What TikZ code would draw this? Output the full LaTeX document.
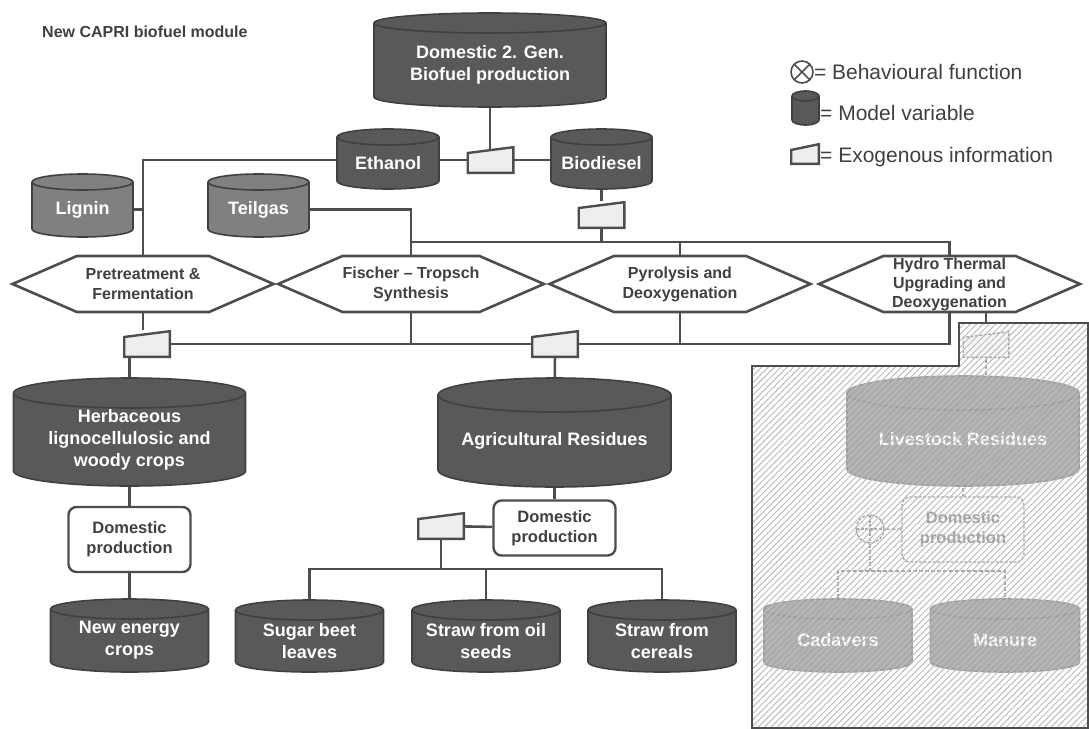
\documentclass[tikz,border=0pt]{standalone}
\usepackage{fontspec}
\setmainfont{Liberation Sans}
\usetikzlibrary{calc,shapes.symbols,backgrounds,patterns.meta}

\definecolor{vardark}{HTML}{595959}
\definecolor{varlight}{HTML}{808080}
\definecolor{varedge}{HTML}{404040}
\definecolor{linkgray}{HTML}{4D4D4D}
\definecolor{exofill}{HTML}{EEEEEE}
\definecolor{labelgray}{HTML}{404040}

\tikzset{
  capry/.store in=\capry, capry=10pt,
  cylfill/.store in=\cylfill, cylfill=vardark,
  link/.style={draw=linkgray, line width=2.6pt},
  fadelink/.style={draw=linkgray, line width=1.4pt, dash pattern=on 4pt off 2pt},
  % cylinder drawn in the node box, leaving capry free below it
  var/.style={inner sep=0pt, align=center, text=white,
    font=\bfseries\fontsize{18}{22}\selectfont,
    path picture={
      \draw[draw=varedge, fill=\cylfill, line width=1.6pt]
        let \p1=(path picture bounding box.south west),
            \p2=(path picture bounding box.north east),
            \n1={(\x2-\x1)/2-1pt}
        in (\x1+1pt,\y2-\capry-1pt) -- (\x1+1pt,\y1+2*\capry+1pt)
          arc[start angle=180, end angle=360, x radius=\n1, y radius=\capry]
          -- (\x2-1pt,\y2-\capry-1pt)
          arc[start angle=0, end angle=180, x radius=\n1, y radius=\capry]
          arc[start angle=180, end angle=360, x radius=\n1, y radius=\capry];
    }},
  exoline/.style={draw=linkgray, line width=2.4pt},
  exo/.style={inner sep=0pt, minimum width=48pt, minimum height=28pt,
    path picture={
      \draw[exoline, fill=exofill]
        ([shift={(1.2pt,1.2pt)}]path picture bounding box.south west)
        -- ([shift={(1.2pt,-7pt)}]path picture bounding box.north west)
        -- ([shift={(-1.2pt,-1.2pt)}]path picture bounding box.north east)
        -- ([shift={(-1.2pt,1.2pt)}]path picture bounding box.south east) -- cycle;
    }},
  proc/.style={signal, signal to=west and east, signal pointer angle=47,
    draw=linkgray, fill=white, line width=2.6pt, inner sep=0pt,
    minimum width=261pt, minimum height=56pt, align=center, text=labelgray,
    font=\bfseries\fontsize{16}{20}\selectfont},
  dom/.style={draw=linkgray, fill=white, line width=2.4pt, rounded corners=8pt,
    minimum width=122pt, minimum height=65pt, inner sep=0pt, align=center,
    text=labelgray, font=\bfseries\fontsize{16.5}{20}\selectfont},
  behav/.style={circle, draw=linkgray, line width=1.6pt, fill=white,
    minimum size=22pt, inner sep=0pt,
    path picture={\draw[linkgray, line width=1.6pt]
      (path picture bounding box.north west) -- (path picture bounding box.south east)
      (path picture bounding box.north east) -- (path picture bounding box.south west);}},
  sumfn/.style={circle, draw=linkgray, line width=1.3pt, dash pattern=on 3pt off 1.5pt,
    fill=white, minimum size=28pt, inner sep=0pt,
    path picture={\draw[linkgray, line width=1.3pt]
      (path picture bounding box.north) -- (path picture bounding box.south)
      (path picture bounding box.west) -- (path picture bounding box.east);}},
  legend/.style={anchor=west, inner sep=0pt, text=labelgray,
    font=\fontsize{21}{24}\selectfont},
}

\begin{document}
\begin{tikzpicture}[x=1pt, y=-1pt]
  \useasboundingbox (0,0) rectangle (1089,728);
  \coordinate (topbus) at (0,242);
  \coordinate (lowbus) at (0,344);
  \coordinate (midbus) at (0,569);
  \coordinate (fadetop) at (0,323);
  \coordinate (fadebus) at (0,571);

  \node[anchor=west, inner sep=0pt, text=labelgray, font=\bfseries\fontsize{16}{19}\selectfont] (title) at (42,32) {New CAPRI biofuel module};

  % biofuels
  \node[var, capry=10pt, minimum width=234pt, minimum height=106pt] (dom2) at (490,65) {Domestic 2. Gen.\\Biofuel production};
  \node[var, capry=8pt, minimum width=104pt, minimum height=70pt] (eth) at (388,163) {Ethanol};
  \node[var, capry=8pt, minimum width=103pt, minimum height=70pt] (bio) at (601.5,163) {Biodiesel};
  \node[exo] (x1) at (490.5,160) {};
  \node[exo] (x2) at (601.5,215) {};

  % by-products
  \node[var, capry=8pt, cylfill=varlight, minimum width=103pt, minimum height=73pt] (lig) at (82.5,209.5) {Lignin};
  \node[var, capry=8pt, cylfill=varlight, minimum width=103pt, minimum height=73pt] (teil) at (258.5,209.5) {Teilgas};

  % conversion processes
  \node[proc] (pre) at (143,284) {Pretreatment \&\\Fermentation};
  \node[proc] (fts) at (411,284) {Fischer – Tropsch\\Synthesis};
  \node[proc] (pyr) at (680,284) {Pyrolysis and\\Deoxygenation};
  \node[proc, font=\bfseries\fontsize{16}{19}\selectfont] (hyd) at (949.5,284) {Hydro Thermal\\Upgrading and\\Deoxygenation};
  \node[exo] (x3) at (147,344) {};
  \node[exo] (x4) at (555,344) {};

  % feedstocks
  \node[var, capry=15pt, minimum width=234pt, minimum height=125pt] (herb) at (129.5,439.5) {Herbaceous\\lignocellulosic and\\woody crops};
  \node[var, capry=17pt, minimum width=235pt, minimum height=128pt] (agr) at (554.5,441) {Agricultural Residues};
  \node[dom] (dp1) at (129.5,539.5) {Domestic\\production};
  \node[dom, minimum height=55pt] (dp2) at (554.5,528) {Domestic\\production};
  \node[exo] (x5) at (441,526) {};
  \node[var, minimum width=160pt, minimum height=85pt] (nec) at (129.5,640.5) {New energy\\crops};
  \node[var, minimum width=150pt, minimum height=84pt] (sbl) at (309.5,641) {Sugar beet\\leaves};
  \node[var, minimum width=150pt, minimum height=84pt] (sos) at (486,641) {Straw from oil\\seeds};
  \node[var, minimum width=150pt, minimum height=84pt] (sce) at (662,641) {Straw from\\cereals};

  % legend
  \node[behav] (legb) at (802,72) {};
  \node[legend] (legbt) at (legb.east) {= Behavioural function};
  \node[var, capry=5pt, minimum width=29pt, minimum height=41pt] (legv) at (805.5,110.5) {};
  \node[legend] (legvt) at (820,113) {= Model variable};
  \node[exo, minimum width=30pt, minimum height=22pt] (lege) at (805,154) {};
  \node[legend] (leget) at (820,157) {= Exogenous information};

  % livestock part, not yet included
  \node[exo, exoline/.style={draw=linkgray, line width=1.4pt, dash pattern=on 3pt off 1.5pt}] (x6) at (986,344.5) {};
  \node[var, capry=17pt, minimum width=234pt, minimum height=129pt] (live) at (963,439.5) {Livestock Residues};
  \node[dom, line width=1.4pt, dash pattern=on 3pt off 1.5pt] (dp3) at (963,529.5) {Domestic\\production};
  \node[sumfn] (sumf) at (870,529) {};
  \node[var, minimum width=150pt, minimum height=85pt] (cad) at (838,640.5) {Cadavers};
  \node[var, minimum width=151pt, minimum height=85pt] (man) at (1005,640.5) {Manure};

  \begin{pgfonlayer}{background}
    \draw[link] (dom2.center) -- (dom2.center |- x1);
    \draw[link] (eth.center |- x1) -- (bio.center |- x1);
    \draw[link] (eth.center |- x1) -| (pre.north);
    \draw[link] (lig.center) -- (lig.center -| pre.north);
    \draw[link] (teil.center) -| (fts.north);
    \draw[link] (bio.center) -- (x2);
    \draw[link] (x2) -- (x2 |- topbus);
    \draw[link] (fts.north |- topbus) -- (hyd.north |- topbus) -- (hyd.north);
    \draw[link] (pyr.north) -- (pyr.north |- topbus);
    \draw[link] (pre.south) -- (pre.south |- x3.north);
    \draw[link] (x3) -- (hyd.south |- lowbus) -- (hyd.south);
    \draw[link] (fts.south) -- (fts.south |- lowbus);
    \draw[link] (pyr.south) -- (pyr.south |- lowbus);
    \draw[link] (herb.north |- x3.south) -- (herb.north);
    \draw[link] (x4) -- (agr);
    \draw[link] (herb.center) -- (dp1) -- (nec);
    \draw[link] (agr.center) -- (dp2);
    \draw[link] (dp2) -- (x5);
    \draw[link] (x5) -- (x5 |- midbus);
    \draw[link] (sbl.north) -- (sbl.north |- midbus) -| (sce.north);
    \draw[link] (sos.north) -- (sos.north |- midbus);
    \draw[link] (hyd.south -| x6) -- (x6 |- fadetop);
    % livestock part
    \fill[white] (752,728) -- (752,366) -- (959,366) -- (959,323) -- (1088,323) -- (1088,728) -- cycle;
    \draw[fadelink] (x6) -- (x6 |- live.north);
    \draw[fadelink] (live.center) -- (dp3);
    \draw[fadelink] (dp3) -- (sumf);
    \draw[fadelink] (sumf) -- (sumf |- fadebus);
    \draw[fadelink] (cad.north) -- (cad.north |- fadebus) -| (man.north);
  \end{pgfonlayer}

  \path[fill=white, fill opacity=0.5,
    postaction={fill opacity=1, pattern={Lines[angle=45, distance=4.5pt, line width=1pt]}, pattern color=black!26},
    postaction={draw=linkgray, line width=1.4pt}]
    (752,728) -- (752,366) -- (959,366) -- (959,323) -- (1088,323) -- (1088,728) -- cycle;
\end{tikzpicture}
\end{document}
